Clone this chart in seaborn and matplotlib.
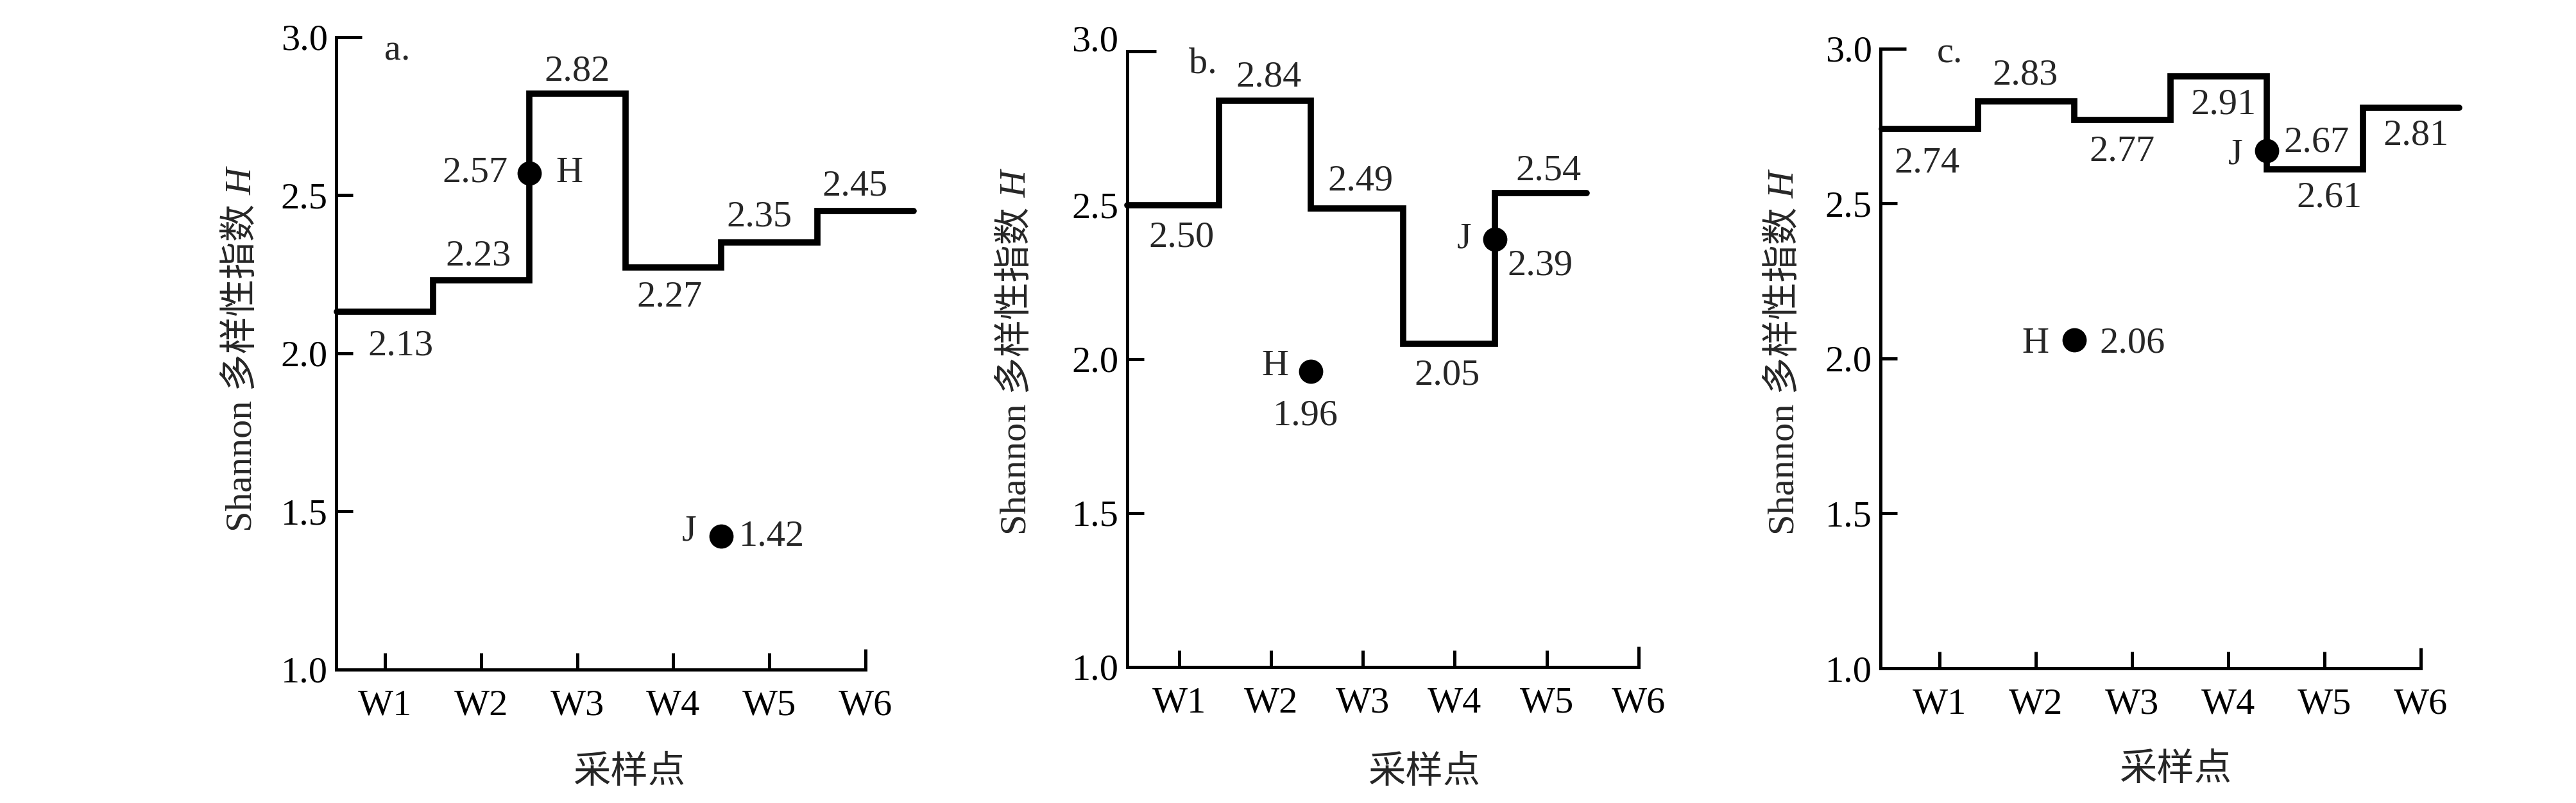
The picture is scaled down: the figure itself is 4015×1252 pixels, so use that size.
import numpy as np
import seaborn as sns
import matplotlib.transforms as mtransforms
from matplotlib import pyplot as plt

# data
sites = ['W1', 'W2', 'W3', 'W4', 'W5', 'W6']
shannon_a = [2.13, 2.23, 2.82, 2.27, 2.35, 2.45]
shannon_b = [2.50, 2.84, 2.49, 2.05, 2.54]
shannon_c = [2.74, 2.83, 2.77, 2.91, 2.61, 2.81]
point_names = ['H', 'J']
point_site = [1.5, 3.5]          # H between W2/W3, J between W4/W5
points_a = [2.57, 1.42]
points_b = [1.96, 2.39]
points_c = [2.06, 2.67]
y_ticks = [1.0, 1.5, 2.0, 2.5, 3.0]

sns.set_theme(style='ticks')
plt.rcParams['font.family'] = ['Liberation Serif', 'Noto Sans CJK SC']

DPI = 200
FS = 21


def px(v):
    # pixel offset -> points
    return v * 72 / DPI


# layout for each panel (positions only)
panels = [
    dict(vals=shannon_a, pts=points_a, tag='a.', shift=0.0, xleft=-0.506,
         rect=[0.1306, 0.1665, 0.2053, 0.7875], tag_xy=(0.13, 2.955),
         step_off=[(24, -53), (-5, 38), (0, 35), (-6, -46), (-16, 40), (-17, 38)],
         name_off=[(63, 0), (-50, 8)], val_off=[(-84, 0), (79, 0)],
         ylab=(-0.146, 0.477), xlab=(0.553, -0.136), top_raise=0, top_len=40),
    dict(vals=shannon_b, pts=points_b, tag='b.', shift=-0.065, xleft=-0.563,
         rect=[0.4376, 0.1696, 0.1983, 0.7667], tag_xy=(0.26, 2.958),
         step_off=[(4, -51), (-4, 36), (-4, 42), (-12, -50), (3, 34)],
         name_off=[(-56, 8), (-48, 0)], val_off=[(-9, -70), (71, -42)],
         ylab=(-0.184, 0.481), xlab=(0.58, -0.144), top_raise=20, top_len=45),
    dict(vals=shannon_c, pts=points_c, tag='c.', shift=-0.1, xleft=-0.608,
         rect=[0.72995, 0.1677, 0.2096, 0.7717], tag_xy=(0.107, 2.984),
         step_off=[(-19, -53), (-16, 40), (-15, -50), (-8, -44), (7, -44), (-8, -44)],
         name_off=[(-60, -6), (-49, -6)], val_off=[(91, -6), (77, 13)],
         ylab=(-0.147, 0.480), xlab=(0.546, -0.136), top_raise=0, top_len=40),
]

fig = plt.figure(figsize=(4016 / DPI, 1252 / DPI), dpi=DPI)

for p in panels:
    ax = fig.add_axes(p['rect'])
    vals = np.array(p['vals'])
    n = len(vals)
    edges = np.arange(n + 1) - 0.5 + p['shift']

    # stepped line, one level per sampling site
    sns.lineplot(x=edges, y=np.append(vals, vals[-1]), drawstyle='steps-post',
                 color='black', lw=3.5, solid_joinstyle='miter', clip_on=False,
                 ax=ax)
    px_x = np.array(point_site) + p['shift']
    sns.scatterplot(x=px_x, y=p['pts'], color='black', s=185, linewidth=0,
                    clip_on=False, zorder=4, ax=ax)

    for i, v in enumerate(vals):
        dx, dy = p['step_off'][i]
        ax.annotate(f'{v:.2f}', (i, v), xytext=(px(dx), px(dy)),
                    textcoords='offset points', ha='center', va='center',
                    fontsize=FS)
    for j, v in enumerate(p['pts']):
        dx, dy = p['name_off'][j]
        ax.annotate(point_names[j], (px_x[j], v), xytext=(px(dx), px(dy)),
                    textcoords='offset points', ha='center', va='center',
                    fontsize=FS)
        dx, dy = p['val_off'][j]
        ax.annotate(f'{v:.2f}', (px_x[j], v), xytext=(px(dx), px(dy)),
                    textcoords='offset points', ha='center', va='center',
                    fontsize=FS)

    ax.text(*p['tag_xy'], p['tag'], ha='center', va='center', fontsize=FS)

    ax.set_xlim(p['xleft'], 5)
    ax.set_ylim(1.0, 3.0)
    ax.set_xticks(range(len(sites)))
    ax.set_xticklabels(sites)
    ax.set_yticks(y_ticks)
    ax.set_yticklabels([f'{t:.1f}' for t in y_ticks])
    ax.tick_params(direction='in', length=px(26), width=1.8, color='black',
                   labelsize=FS, labelcolor='black')
    ax.tick_params(axis='x', pad=11)
    ax.tick_params(axis='y', pad=5)
    ax.yaxis.get_major_ticks()[-1].tick1line.set_markersize(px(p['top_len']))
    ax.xaxis.get_major_ticks()[-1].tick1line.set_markersize(px(32))
    if p['top_raise']:
        lab = ax.get_yticklabels()[-1]
        lab.set_transform(lab.get_transform() + mtransforms.ScaledTranslation(
            0, p['top_raise'] / DPI, fig.dpi_scale_trans))

    sns.despine(ax=ax)
    for side in ['left', 'bottom']:
        ax.spines[side].set_linewidth(1.8)
        ax.spines[side].set_color('black')
        ax.spines[side].set_capstyle('projecting')

    ax.set_ylabel('Shannon 多样性指数', fontsize=FS)
    ax.yaxis.set_label_coords(*p['ylab'])
    # italic H appended after the label
    ax.annotate('H', xy=(1.0, 1.0), xycoords=ax.yaxis.label,
                xytext=(0, 5), textcoords='offset points', rotation=90,
                rotation_mode='anchor', ha='left', va='bottom',
                style='italic', fontsize=FS, annotation_clip=False)
    ax.set_xlabel('采样点', fontsize=FS)
    ax.xaxis.set_label_coords(*p['xlab'])
    ax.grid(False)

fig.savefig('out.png', dpi=DPI, facecolor='white')
